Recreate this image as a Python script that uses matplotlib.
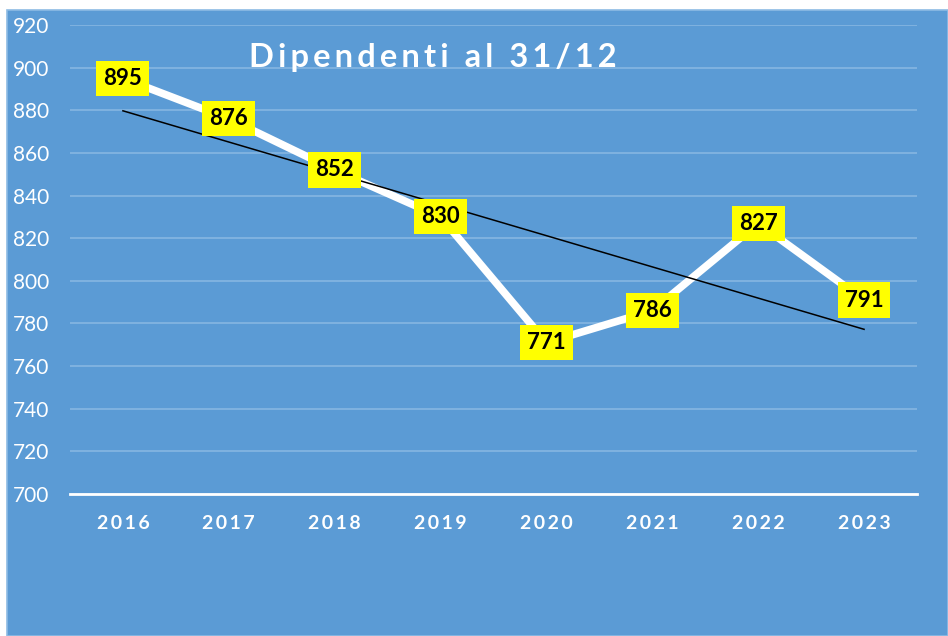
import matplotlib
matplotlib.use('Agg')
import matplotlib.pyplot as plt
from matplotlib.patches import Rectangle
import numpy as np

years = ['2016', '2017', '2018', '2019', '2020', '2021', '2022', '2023']
dipendenti = [895, 876, 852, 830, 771, 786, 827, 791]
y_ticks = [700, 720, 740, 760, 780, 800, 820, 840, 860, 880, 900, 920]
title = 'Dipendenti al 31/12'

BLUE = '#5B9BD5'
FONT = ['Lato', 'DejaVu Sans']

def spaced(s):
    return '\u2009'.join(s)

W, H = 948, 636
fig = plt.figure(figsize=(W / 100, H / 100), dpi=100, facecolor='white')

# blue chart area with slightly lighter border, kept behind the axes
fig.patches.append(Rectangle((7 / W, 0), 1 - 7 / W, 1 - 10 / H, transform=fig.transFigure,
                             facecolor=BLUE, edgecolor='#8DBBE4', linewidth=1.2, zorder=-10))

ax = fig.add_axes([70 / W, 1 - 494 / H, (917 - 70) / W, (494 - 25) / H])
ax.set_facecolor('none')
ax.set_zorder(1)

x = np.arange(len(years))
ax.set_xlim(-0.5, len(years) - 0.5)
ax.set_ylim(700, 920)
ax.set_yticks(y_ticks)
ax.grid(axis='y', color='#86B6E2', linewidth=1.2, zorder=1)
ax.set_axisbelow(True)

for side in ['top', 'right', 'left']:
    ax.spines[side].set_visible(False)
ax.spines['bottom'].set_color('white')
ax.spines['bottom'].set_linewidth(2)
ax.spines['bottom'].set_zorder(2)

ax.tick_params(axis='y', length=0, pad=15, labelcolor='white', labelsize=15)
ax.tick_params(axis='x', length=0, pad=15)
for lab in ax.get_yticklabels():
    lab.set_family(FONT)

ax.set_xticks(x)
ax.set_xticklabels([spaced(y) for y in years], color='white', fontsize=14,
                   fontweight='bold', family=FONT)

# data line
ax.plot(x, dipendenti, color='white', linewidth=5.5, solid_capstyle='butt', zorder=3)

# linear trend
k, b = np.polyfit(x, dipendenti, 1)
ax.plot(x, k * x + b, color='black', linewidth=1.1, zorder=4)

for xi, v in zip(x, dipendenti):
    ax.text(xi, v, str(v), ha='center', va='center', fontsize=16, fontweight='bold',
            family=FONT, color='black', zorder=5,
            bbox=dict(boxstyle='square,pad=0.32', facecolor='#FFFF00', edgecolor='none'))

fig.text(433 / W, 1 - 57 / H, spaced(title), ha='center', va='center', color='white',
         fontsize=23.5, fontweight='bold', family=FONT, zorder=5)

fig.savefig('out.png', dpi=100, facecolor='white')
